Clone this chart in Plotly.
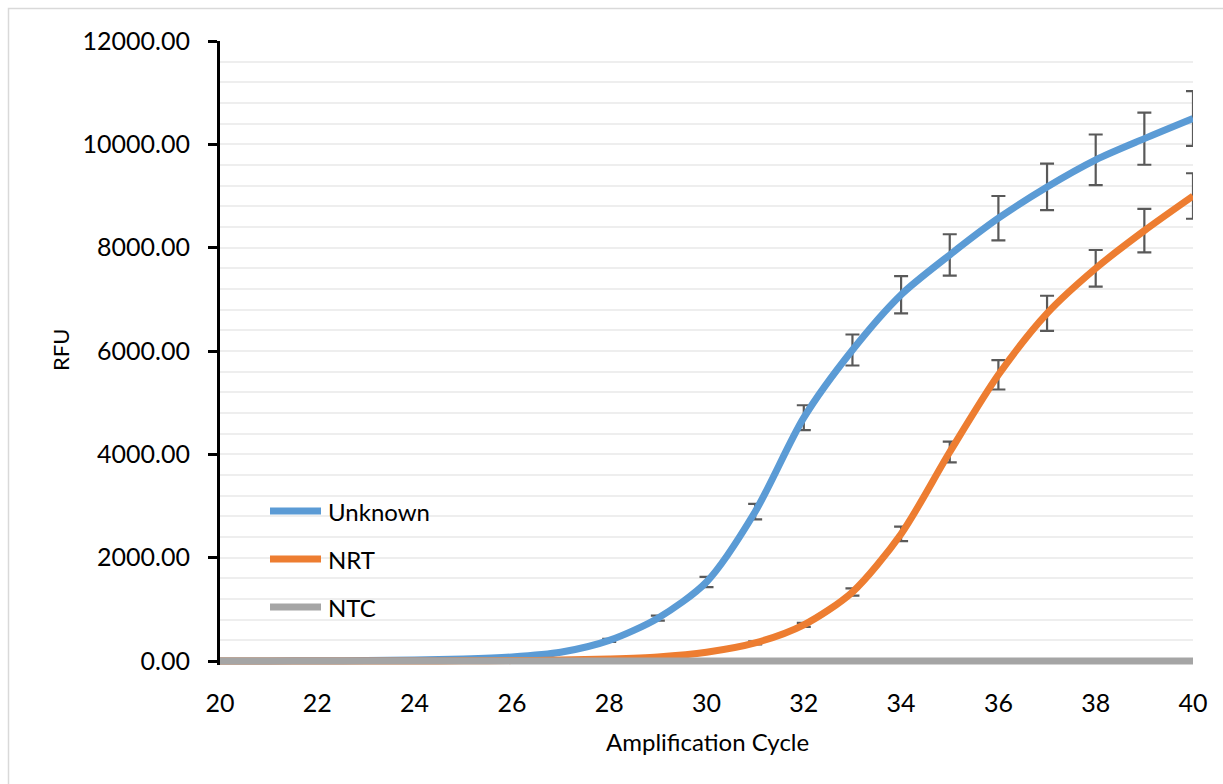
import plotly.graph_objects as go

cycles = list(range(20, 41))
unknown = [0, 2, 5, 10, 20, 40, 80, 170, 400, 830, 1530, 2890, 4710, 6020, 7090, 7860,
           8570, 9175, 9700, 10110, 10500]
unknown_err = [0, 0, 0, 1, 2, 4, 8, 15, 30, 50, 100, 150, 240, 300, 360, 400,
               430, 450, 490, 505, 530]
nrt = [0, 0, 0, 0, 1, 3, 8, 18, 40, 80, 170, 350, 700, 1335, 2460, 4045,
       5540, 6730, 7600, 8330, 9000]
nrt_err = [0, 0, 0, 0, 0, 0, 1, 2, 4, 8, 15, 30, 40, 70, 140, 200,
           285, 340, 355, 420, 440]
ntc = [0] * 21

names = ["Unknown", "NRT", "NTC"]
colors = ["#5B9BD5", "#ED7D31", "#A5A5A5"]

FONT = "Lato"
W, H = 1223, 784
L, R, T, B = 220, 30, 41, 119
PW, PH = W - L - R, H - T - B
YMIN = -77

def px(xp):
    return (xp - L) / PW

def py(yp):
    return (H - B - yp) / PH

fig = go.Figure()
series = [(unknown, unknown_err), (nrt, nrt_err), (ntc, None)]
for (vals, err), name, col in zip(series, names, colors):
    fig.add_trace(go.Scatter(
        x=cycles, y=vals, name=name, mode="lines",
        line=dict(color=col, width=7, shape="spline", smoothing=0.8),
        error_y=(dict(type="data", array=err, visible=True, color="#595959",
                      thickness=2.2, width=7) if err else None),
        showlegend=False, cliponaxis=False,
    ))

# manual legend
leg_y = [511, 559, 607]
for name, col, yy in zip(names, colors, leg_y):
    fig.add_shape(type="line", xref="paper", yref="paper",
                  x0=px(270), x1=px(321), y0=py(yy), y1=py(yy),
                  line=dict(color=col, width=7))
    fig.add_annotation(xref="paper", yref="paper", x=px(326), y=py(yy),
                       text=name, showarrow=False, xanchor="left", yanchor="middle",
                       font=dict(family=FONT, size=24, color="#000000"))

# axis titles
fig.add_annotation(xref="paper", yref="paper", x=px(60), y=py(350), text="RFU",
                   textangle=-90, showarrow=False, xanchor="center", yanchor="middle",
                   font=dict(family=FONT, size=22, color="#000000"))
fig.add_annotation(xref="paper", yref="paper", x=px(707), y=py(741),
                   text="Amplification Cycle", showarrow=False,
                   xanchor="center", yanchor="middle",
                   font=dict(family=FONT, size=24, color="#000000"))

# outer border
fig.add_shape(type="rect", xref="paper", yref="paper",
              x0=px(8.5), y0=py(790), x1=px(1230), y1=py(8.5),
              line=dict(color="#D9D9D9", width=1.5), layer="below")

fig.update_layout(
    width=W, height=H,
    margin=dict(l=L, r=R, t=T, b=B, pad=0),
    paper_bgcolor="white", plot_bgcolor="white",
    font=dict(family=FONT, size=24, color="#000000"),
    xaxis=dict(range=[20, 40], dtick=2, tick0=20, showgrid=False, zeroline=False,
               showline=False, ticks="outside", ticklen=16, tickcolor="rgba(0,0,0,0)",
               tickfont=dict(family=FONT, size=25, color="#000000")),
    yaxis=dict(range=[YMIN, 12000], tickvals=[0, 2000, 4000, 6000, 8000, 10000, 12000],
               tickformat=".2f", showgrid=True, gridcolor="#EEEEEE", gridwidth=1.5,
               zeroline=False,
               showline=True, linecolor="#000000", linewidth=3,
               ticks="outside", ticklen=9, tickwidth=3, tickcolor="#000000",
               ticklabelstandoff=13,
               tickfont=dict(family=FONT, size=25, color="#000000"),
               minor=dict(tickvals=[v for v in range(400, 12000, 400)], showgrid=True,
                          gridcolor="#EEEEEE", gridwidth=1.5, ticks="")),
)

fig.write_html("out.html")
